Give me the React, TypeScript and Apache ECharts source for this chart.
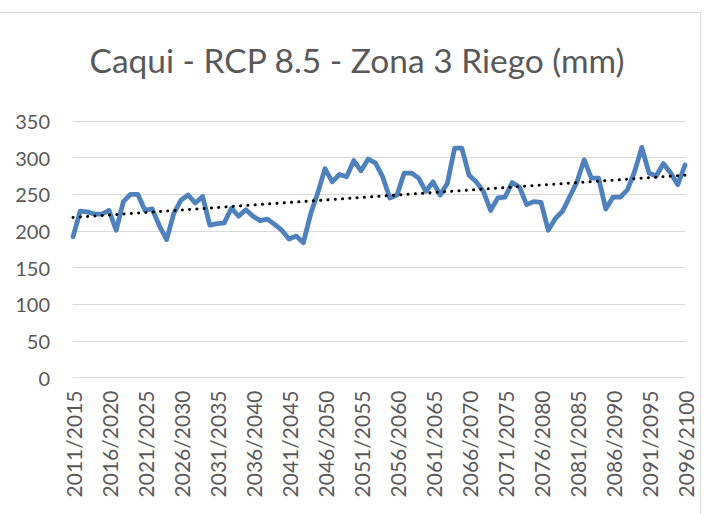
import React, { useEffect, useRef } from "react";
import * as echarts from "echarts";

// Five-year periods: 2011/2015 ... 2096/2100
const periodStarts: number[] = [];
for (let y = 2011; y <= 2096; y++) periodStarts.push(y);
const periods = periodStarts.map((y) => `${y}/${y + 4}`);

// Irrigation requirement (mm) per period
const riego = [
  192, 227, 226, 223, 223, 228, 201, 240, 250, 250,
  228, 230, 207, 188, 224, 242, 249, 238, 247, 208,
  210, 211, 231, 220, 229, 220, 214, 216, 209, 201,
  189, 193, 184, 223, 252, 285, 267, 277, 274, 296,
  282, 298, 293, 274, 245, 249, 279, 279, 272, 254,
  267, 249, 265, 313, 313, 276, 267, 254, 228, 245,
  246, 266, 260, 236, 240, 239, 201, 217, 227, 247,
  267, 297, 272, 272, 230, 246, 246, 256, 281, 314,
  279, 275, 292, 279, 263, 290,
];

const yTicks = { min: 0, max: 350, interval: 50 };

// Least-squares linear trend over the series
function linearTrend(values: number[]): number[] {
  const n = values.length;
  let sx = 0, sy = 0, sxy = 0, sxx = 0;
  values.forEach((v, i) => {
    sx += i; sy += v; sxy += i * v; sxx += i * i;
  });
  const slope = (n * sxy - sx * sy) / (n * sxx - sx * sx);
  const icpt = (sy - slope * sx) / n;
  return values.map((_, i) => icpt + slope * i);
}

const FONT = "Lato";
const TEXT = "#595959";
const GRID = "#d9d9d9";

export default function App() {
  const ref = useRef<HTMLDivElement>(null);
  useEffect(() => {
    if (!ref.current) return;
    const chart = echarts.init(ref.current, undefined, { renderer: "svg" });
    chart.setOption({
      animation: false,
      backgroundColor: "#ffffff",
      title: {
        text: "Caqui - RCP 8.5 - Zona 3 Riego (mm)",
        left: 352,
        textAlign: "center",
        top: 38,
        textStyle: { fontFamily: FONT, fontSize: 33.5, fontWeight: "normal", color: TEXT },
      },
      graphic: [
        {
          type: "rect",
          shape: { x: -5, y: 12.5, width: 705.5, height: 520 },
          style: { fill: "none", stroke: GRID, lineWidth: 1 },
          silent: true,
        },
      ],
      grid: { left: 73, right: 30, top: 121, bottom: 136.5 },
      xAxis: {
        type: "category",
        data: periods,
        boundaryGap: false,
        axisLine: { show: true, lineStyle: { color: GRID, width: 1 } },
        axisTick: { show: false },
        axisLabel: {
          interval: 4,
          rotate: 90,
          margin: 13,
          fontFamily: FONT,
          fontSize: 21,
          color: TEXT,
        },
        splitLine: { show: false },
      },
      yAxis: {
        type: "value",
        min: yTicks.min,
        max: yTicks.max,
        interval: yTicks.interval,
        axisLine: { show: false },
        axisTick: { show: false },
        axisLabel: { margin: 23, fontFamily: FONT, fontSize: 20, color: TEXT },
        splitLine: { lineStyle: { color: GRID, width: 1 } },
      },
      series: [
        {
          name: "Riego",
          type: "line",
          data: riego,
          symbol: "none",
          lineStyle: { color: "#4f81bd", width: 4.8, join: "round", cap: "round" },
          z: 2,
        },
        {
          name: "Lineal",
          type: "line",
          data: linearTrend(riego),
          symbol: "none",
          lineStyle: { color: "#000000", width: 3, type: [0.1, 7.2], cap: "round" },
          z: 3,
        },
      ],
    });
    return () => chart.dispose();
  }, []);
  return (
    <div
      ref={ref}
      style={{ position: "fixed", left: 0, top: 0, width: 715, height: 514, background: "#fff" }}
    />
  );
}
